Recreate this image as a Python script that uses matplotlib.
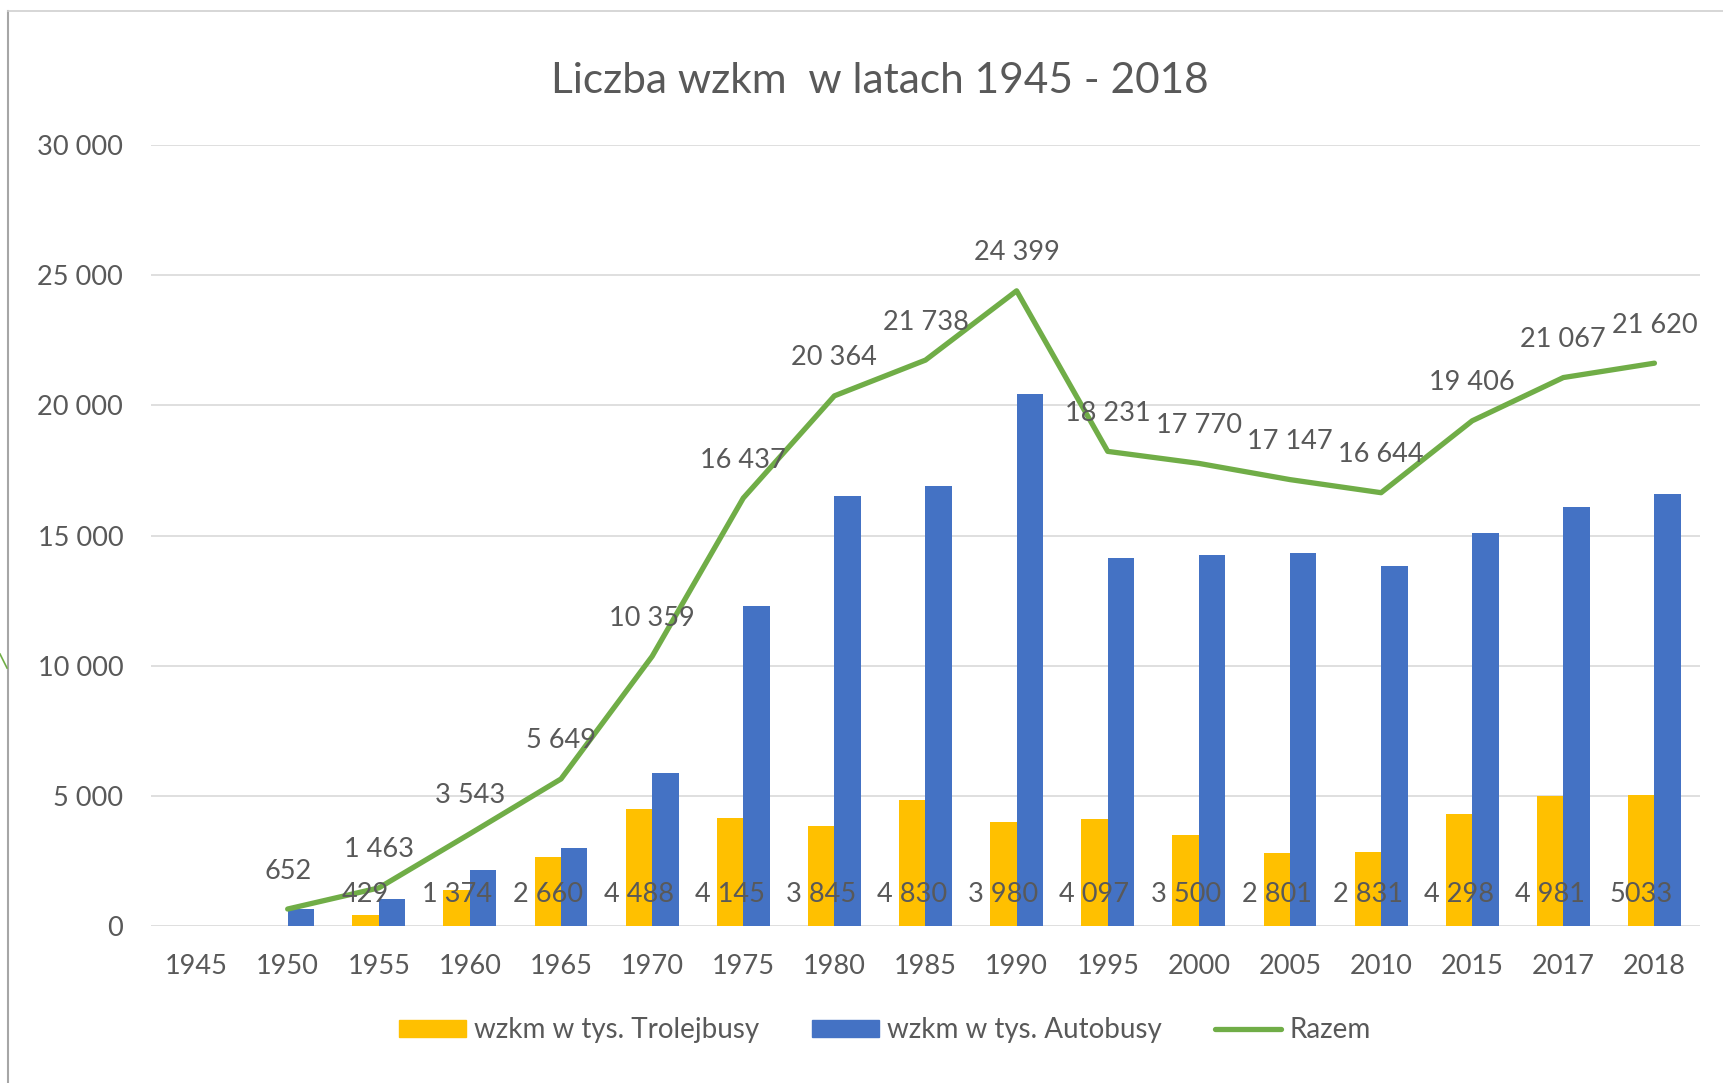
import numpy as np
import matplotlib.pyplot as plt
from matplotlib.lines import Line2D
from matplotlib.patches import Patch

plt.rcParams['font.family'] = ['Lato', 'DejaVu Sans']

# dane z wykresu
lata = ['1945', '1950', '1955', '1960', '1965', '1970', '1975', '1980', '1985',
        '1990', '1995', '2000', '2005', '2010', '2015', '2017', '2018']
trolejbusy = [np.nan, np.nan, 429, 1374, 2660, 4488, 4145, 3845, 4830,
              3980, 4097, 3500, 2801, 2831, 4298, 4981, 5033]
autobusy = [np.nan, 652, 1034, 2169, 2989, 5871, 12292, 16519, 16908,
            20419, 14134, 14270, 14346, 13813, 15108, 16086, 16587]
razem = [np.nan, 652, 1463, 3543, 5649, 10359, 16437, 20364, 21738,
         24399, 18231, 17770, 17147, 16644, 19406, 21067, 21620]
# w oryginale ta etykieta jest bez spacji tysięcy
bez_separatora = ['2018']

ZOLTY = '#FFC000'
NIEBIESKI = '#4472C4'
ZIELONY = '#70AD47'
TEKST = '#595959'

W, H = 1724, 1083


def fmt(v):
    return f'{int(v):,}'.replace(',', ' ')


fig = plt.figure(figsize=(W / 100, H / 100), dpi=100)
ax = fig.add_axes([151 / W, 1 - 926 / H, 1549 / W, 781 / H])

x = np.arange(len(lata))
w = 0.29
ax.bar(x - w / 2, trolejbusy, w, color=ZOLTY, zorder=2)
ax.bar(x + w / 2, autobusy, w, color=NIEBIESKI, zorder=2)
ax.plot(x, razem, color=ZIELONY, lw=3.8, solid_joinstyle='round',
        solid_capstyle='round', zorder=3)

# etykiety trolejbusów (przy podstawie słupka)
for i, v in enumerate(trolejbusy):
    if np.isnan(v):
        continue
    txt = str(int(v)) if lata[i] in bez_separatora else fmt(v)
    ax.annotate(txt, (x[i] - w / 2, 0), xytext=(0, 32), textcoords='offset pixels',
                ha='center', va='center', fontsize=19.5, color=TEKST, zorder=4)

# etykiety sumy (nad linią)
for i, v in enumerate(razem):
    if np.isnan(v):
        continue
    ax.annotate(fmt(v), (x[i], v), xytext=(0, 38), textcoords='offset pixels',
                ha='center', va='center', fontsize=19.5, color=TEKST, zorder=4)

ax.set_xlim(-0.5, len(lata) - 0.5)
ax.set_ylim(0, 30000)
ax.set_yticks(range(0, 30001, 5000))
ax.set_yticklabels([fmt(t) for t in range(0, 30001, 5000)])
ax.set_xticks(x)
ax.set_xticklabels(lata)
ax.tick_params(length=0, labelsize=19.5, labelcolor=TEKST)
ax.tick_params(axis='y', pad=20)
ax.tick_params(axis='x', pad=20)
ax.yaxis.grid(True, color='#D9D9D9', lw=1.2)
ax.set_axisbelow(True)
for s in ax.spines.values():
    s.set_visible(False)

fig.text(880 / W, 1 - 81 / H, 'Liczba wzkm  w latach 1945 - 2018',
         ha='center', va='center', fontsize=30.5, color=TEKST)

uchwyty = [Patch(color=ZOLTY), Patch(color=NIEBIESKI),
           Line2D([], [], color=ZIELONY, lw=3.8, solid_capstyle='round')]
fig.legend(uchwyty, ['wzkm w tys. Trolejbusy', 'wzkm w tys. Autobusy', 'Razem'],
           loc='center', bbox_to_anchor=(885 / W, 1 - 1030 / H), ncol=3,
           frameon=False, fontsize=20, labelcolor=TEKST, handlelength=2.4,
           handleheight=0.55, handletextpad=0.3, columnspacing=1.9)

# ramka zrzutu ekranu
fig.add_artist(Line2D([8 / W, 8 / W], [0, 1 - 11 / H], color='#A6A6A6', lw=1.5))
fig.add_artist(Line2D([8 / W, 1], [1 - 11 / H, 1 - 11 / H], color='#D0D0D0', lw=1.2))
fig.add_artist(Line2D([0, 7 / W], [1 - 654 / H, 1 - 668 / H], color=ZIELONY, lw=1.2))

fig.savefig('out.png', dpi=100)
